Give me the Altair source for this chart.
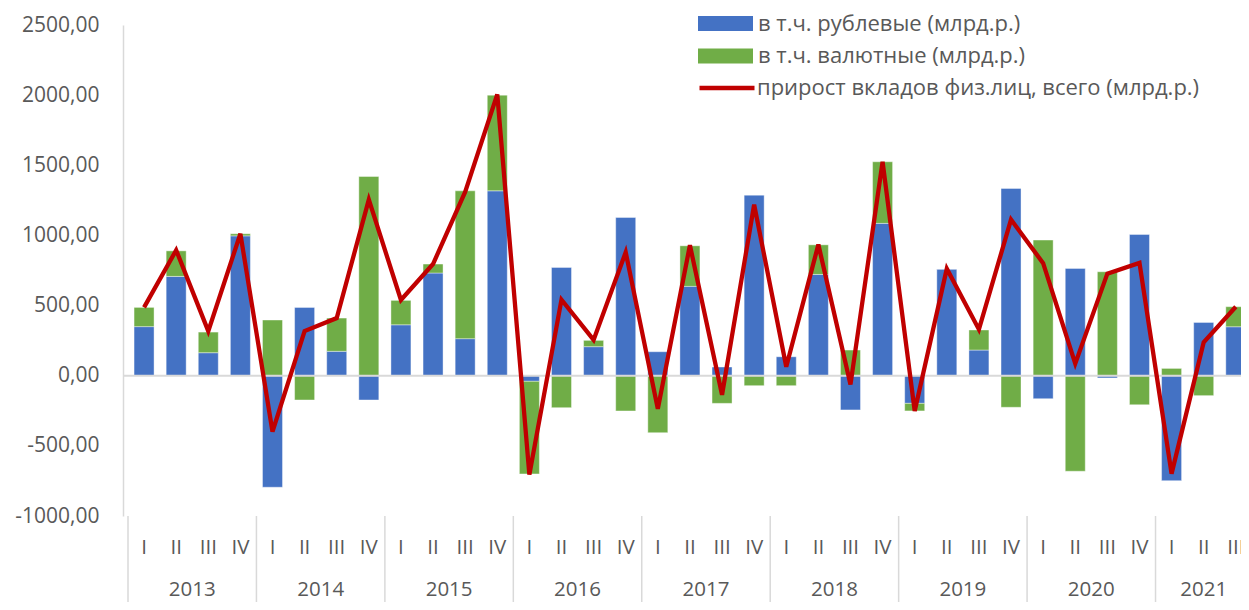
import altair as alt
import pandas as pd

YEARS = ["2013", "2014", "2015", "2016", "2017", "2018", "2019", "2020", "2021"]
QUARTERS = ["I", "II", "III", "IV"]

# 2013 I ... 2021 III (bn rub)
RUBLE = [350, 708, 164, 997, -795, 487, 174, -173, 363, 732, 264, 1318,
         -40, 772, 207, 1128, 171, 637, 62, 1287, 135, 722, -244, 1086,
         -197, 760, 183, 1335, -164, 765, -16, 1007, -748, 380, 349]
CURRENCY = [137, 182, 147, 15, 397, -173, 237, 1420, 174, 64, 1054, 682,
            -660, -228, 45, -251, -406, 289, -197, -71, -71, 211, 183, 439,
            -54, 0, 143, -225, 967, -681, 741, -207, 52, -142, 143]
TOTAL = [487, 895, 318, 1012, -398, 318, 411, 1255, 540, 796, 1310, 2005,
         -705, 542, 255, 880, -236, 930, -136, 1220, 64, 935, -63, 1525,
         -252, 763, 330, 1113, 802, 86, 728, 804, -698, 238, 492]

SER_RUB = "в т.ч. рублевые (млрд.р.)"
SER_CUR = "в т.ч. валютные (млрд.р.)"
SER_TOT = "прирост вкладов физ.лиц, всего (млрд.р.)"

FONT = "Open Sans"
TXT = "#595959"
GRID = "#d9d9d9"

W, H = 1118, 491
STEP = 32.4
XMAX = -0.5 + W / STEP

n = len(TOTAL)
q_rows = []
bar_rows = []
for i in range(n):
    year = YEARS[i // 4]
    q = QUARTERS[i % 4]
    q_rows.append({"idx": i, "year": year, "quarter": q, "total": TOTAL[i], "series": SER_TOT})
    bar_rows.append({"idx": i, "series": SER_RUB, "ord": 0, "value": RUBLE[i]})
    bar_rows.append({"idx": i, "series": SER_CUR, "ord": 1, "value": CURRENCY[i]})
q_df = pd.DataFrame(q_rows)
bar_df = pd.DataFrame(bar_rows)

year_df = q_df.groupby("year", as_index=False).agg(mid=("idx", "mean"), first=("idx", "min"))
year_df["sep"] = year_df["first"] - 0.5

xscale = alt.Scale(domain=[-0.5, XMAX], nice=False, zero=False)
yscale = alt.Scale(domain=[-1000, 2500], nice=False)

yaxis = alt.Axis(
    values=list(range(-1000, 2501, 500)),
    labelExpr="toString(datum.value) + ',00'",
    title=None, grid=False, ticks=False, tickSize=0,
    domainColor=GRID, domainWidth=1.5,
    labelColor=TXT, labelFont=FONT, labelFontSize=21, labelPadding=24,
)

bars = alt.Chart(bar_df).mark_bar(size=20, stroke="white", strokeWidth=0.8, strokeOpacity=0.5).encode(
    x=alt.X("idx:Q", scale=xscale, axis=None),
    y=alt.Y("value:Q", scale=yscale, axis=yaxis, stack="zero"),
    fill=alt.Fill(
        "series:N",
        scale=alt.Scale(domain=[SER_RUB, SER_CUR], range=["#4472C4", "#70AD47"]),
        legend=alt.Legend(
            orient="none", legendX=575, legendY=-15.5, title=None,
            symbolType="M-1,-0.27L1,-0.27L1,0.27L-1,0.27Z", symbolSize=3025,
            symbolStrokeWidth=0, symbolOpacity=1,
            labelFont=FONT, labelFontSize=22, labelColor=TXT, labelOffset=5,
            labelLimit=700, clipHeight=28, rowPadding=4.5, padding=0,
        ),
    ),
    order=alt.Order("ord:Q"),
)

zero = alt.Chart(pd.DataFrame({"zero": [0]})).mark_rule(color=GRID, strokeWidth=2).encode(
    y=alt.Y("zero:Q", scale=yscale)
)

line = alt.Chart(q_df).mark_line(strokeWidth=4.3).encode(
    x=alt.X("idx:Q", scale=xscale, axis=None),
    y=alt.Y("total:Q", scale=yscale),
    stroke=alt.Stroke(
        "series:N",
        scale=alt.Scale(domain=[SER_TOT], range=["#C00000"]),
        legend=alt.Legend(
            orient="none", legendX=574, legendY=49, title=None,
            symbolType="stroke", symbolSize=3025, symbolStrokeWidth=4.5,
            labelFont=FONT, labelFontSize=22, labelColor=TXT, labelOffset=0,
            labelLimit=700, clipHeight=28, padding=0,
        ),
    ),
)

seps = alt.Chart(year_df).mark_rule(color=GRID, strokeWidth=1.5).encode(
    x=alt.X("sep:Q", scale=xscale),
    y=alt.value(H),
    y2=alt.value(H + 86),
)

qtext = alt.Chart(q_df).mark_text(font=FONT, fontSize=20.5, color=TXT, baseline="middle").encode(
    x=alt.X("idx:Q", scale=xscale),
    y=alt.value(H + 32),
    text="quarter:N",
)

ytext = alt.Chart(year_df).mark_text(font=FONT, fontSize=20.5, color=TXT, baseline="middle").encode(
    x=alt.X("mid:Q", scale=xscale),
    y=alt.value(H + 74),
    text="year:N",
)

chart = alt.layer(bars, zero, line, seps, qtext, ytext).properties(
    width=W, height=H,
    autosize=alt.AutoSizeParams(type="none"),
    padding={"left": 115, "top": 17, "right": 0, "bottom": 86},
).configure_view(stroke=None)

chart.save("out.html", embed_options={"renderer": "svg", "actions": False})
